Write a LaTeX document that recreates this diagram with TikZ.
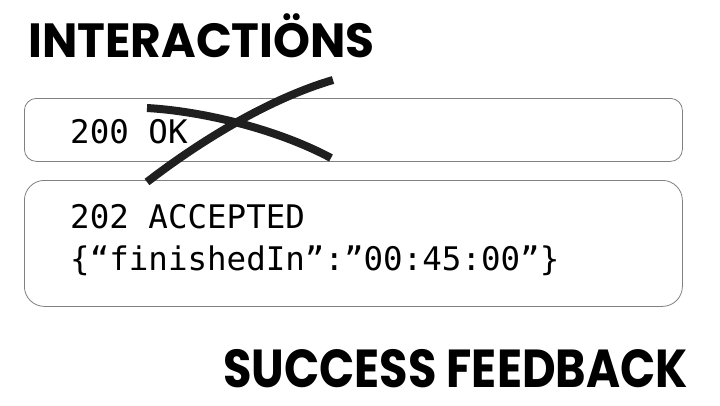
\documentclass[tikz,border=0pt]{standalone}
\usepackage{fontspec}
\setmonofont{DejaVu Sans Mono}
\newfontfamily\headfont{Poppins}
\usetikzlibrary{positioning}

\tikzset{
  msgbox/.style={draw=black!50, line width=0.8pt, rounded corners=#1, anchor=north west, inner sep=0pt},
  msgtext/.style={anchor=base west, inner sep=0pt, font=\ttfamily\fontsize{32.5}{42}\selectfont},
  heading/.style={inner sep=0pt, font=\headfont\bfseries\fontsize{#1}{50}\selectfont},
  strike/.style={line width=8pt, draw=black!88}
}

\begin{document}
\begin{tikzpicture}[x=1pt, y=-1pt]
    \fill[white] (0, 0) rectangle (720, 405);
    \useasboundingbox (0, 0) rectangle (720, 405);

    \node[heading=48, anchor=base west, xscale=0.98] (title) at (28, 57) {INTERACTIÖNS};
    \node[heading=53.5, anchor=base east, xscale=0.865] (subtitle) at (688, 387) {SUCCESS FEEDBACK};

    \node[msgbox=12pt, minimum width=658pt, minimum height=63pt] (okbox) at (24, 98) {};
    \node[msgbox=20pt, minimum width=658pt, minimum height=126pt] (acceptedbox) at (24, 180) {};

    \node[msgtext] (ok) at (70, 143) {200 OK};
    \node[msgtext] (accepted) at (70, 228) {202 ACCEPTED};
    \node[msgtext] (payload) at (70, 270) {\{“finishedIn”:”00:45:00”\}};

    % crossed out
    \draw[strike]
    (147, 108) .. controls (200, 111) and (275, 128) .. (331, 158)
    (147, 182) .. controls (195, 145) and (265, 100) .. (333, 80);
\end{tikzpicture}
\end{document}
